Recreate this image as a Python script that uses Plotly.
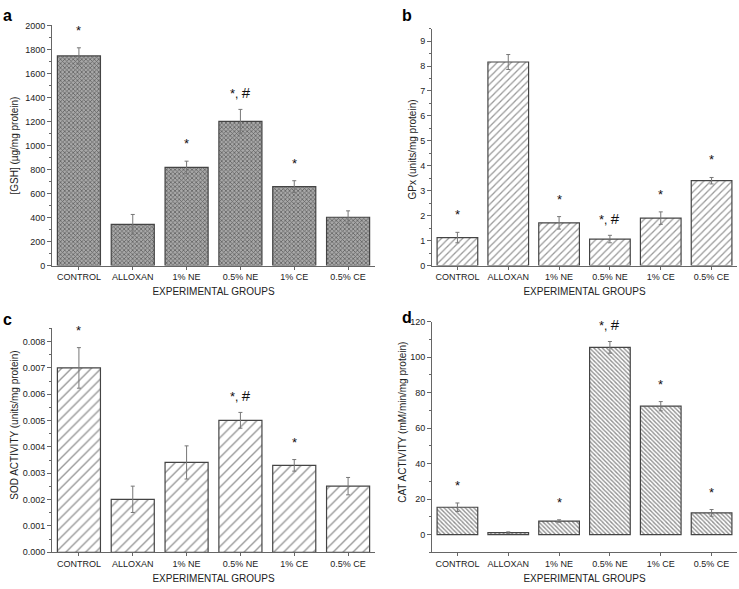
import plotly.graph_objects as go

groups = ["CONTROL", "ALLOXAN", "1% NE", "0.5% NE", "1% CE", "0.5% CE"]

gsh = [1745, 343, 817, 1200, 657, 402]
gsh_err = [68, 82, 52, 100, 49, 53]
gsh_marks = ["*", "", "*", "*,#", "*", ""]

gpx = [1.12, 8.16, 1.71, 1.06, 1.90, 3.40]
gpx_err = [0.21, 0.30, 0.25, 0.15, 0.25, 0.13]
gpx_marks = ["*", "", "*", "*,#", "*", "*"]

sod = [0.00700, 0.00201, 0.00341, 0.00501, 0.00330, 0.00251]
sod_err = [0.00077, 0.00050, 0.00063, 0.00030, 0.00022, 0.00033]
sod_marks = ["*", "", "", "*,#", "*", ""]

cat = [15.4, 1.1, 7.6, 105.6, 72.4, 12.2]
cat_err = [2.4, 0.4, 0.7, 3.3, 2.6, 1.9]
cat_marks = ["*", "", "*", "*,#", "*", "*"]

W, H = 739, 589
FONT = "Liberation Sans, Arial, sans-serif"

def px_x(a, b):
    return [a / W, b / W]

def px_y(top, bottom):
    return [1 - bottom / H, 1 - top / H]

panels = [
    dict(vals=gsh, err=gsh_err, marks=gsh_marks, xd=px_x(52, 375), yd=px_y(20.7, 265),
         rng=[0, 2000], dtick=200, minor=100, fmt="", title="[GSH] (µg/mg protein)",
         pattern=dict(shape="x", size=3, solidity=0.45, fgcolor="#1a1a1a", bgcolor="#a8a8a8"),
         letter="a", lx=1, ly=11, tx=15, ty=143),
    dict(vals=gpx, err=gpx_err, marks=gpx_marks, xd=px_x(432, 737), yd=px_y(24, 265),
         rng=[0, 9.5], dtick=1, minor=0.5, fmt="", title="GPx (units/mg protein)",
         pattern=dict(shape="/", size=5, solidity=0.25, fgcolor="#333333", bgcolor="white"),
         letter="b", lx=400, ly=11, tx=413, ty=147),
    dict(vals=sod, err=sod_err, marks=sod_marks, xd=px_x(52, 375), yd=px_y(329, 556.7),
         rng=[0, 0.0085], dtick=0.001, minor=0.0005, fmt=".3f", title="SOD ACTIVITY (units/mg protein)",
         pattern=dict(shape="/", size=7, solidity=0.2, fgcolor="#333333", bgcolor="white"),
         letter="c", lx=1, ly=320, tx=15, ty=428),
    dict(vals=cat, err=cat_err, marks=cat_marks, xd=px_x(432, 737), yd=px_y(322.3, 556.7),
         rng=[-10, 120], dtick=20, minor=10, fmt="", title="CAT ACTIVITY (mM/min/mg protein)",
         pattern=dict(shape="\\", size=3, solidity=0.45, fgcolor="#222222", bgcolor="white"),
         letter="d", lx=400, ly=318, tx=403, ty=425),
]

fig = go.Figure()
annotations = []
for i, p in enumerate(panels):
    n = "" if i == 0 else str(i + 1)
    fig.add_trace(go.Bar(
        x=groups, y=p["vals"], xaxis="x" + n, yaxis="y" + n, width=0.8,
        marker=dict(color="white", pattern=p["pattern"], line=dict(color="#444444", width=1.2)),
        error_y=dict(type="data", array=p["err"], color="#777777", thickness=1, width=2),
        showlegend=False, hoverinfo="x+y",
    ))
    fig.update_layout(**{
        "xaxis" + n: dict(domain=p["xd"], anchor="y" + n, range=[-0.5, 5.5], showline=True,
                          linecolor="#666666", linewidth=1, ticks="outside", ticklen=3,
                          tickcolor="#666666", tickfont=dict(family=FONT, size=9, color="#222"),
                          title=dict(text="EXPERIMENTAL GROUPS", standoff=6,
                                     font=dict(family=FONT, size=10, color="#222")),
                          showgrid=False, zeroline=False, fixedrange=True),
        "yaxis" + n: dict(domain=p["yd"], anchor="x" + n, range=p["rng"], dtick=p["dtick"],
                          tickformat=p["fmt"], showline=True, linecolor="#666666", linewidth=1,
                          ticks="outside", ticklen=4, tickcolor="#666666",
                          minor=dict(dtick=p["minor"], ticks="outside", ticklen=2, tickcolor="#666666"),
                          tickfont=dict(family=FONT, size=9, color="#222"),
                          showgrid=False, zeroline=False, fixedrange=True),
    })
    annotations.append(dict(text=p["title"], xref="paper", yref="paper", x=p["tx"] / W,
                            y=1 - p["ty"] / H, textangle=-90, showarrow=False,
                            xanchor="center", yanchor="middle",
                            font=dict(family=FONT, size=10, color="#222")))
    annotations.append(dict(text="<b>" + p["letter"] + "</b>", xref="paper", yref="paper",
                            x=p["lx"] / W, y=1 - p["ly"] / H, xanchor="left", yanchor="middle",
                            showarrow=False, font=dict(family=FONT, size=16, color="#000")))
    for g, v, e, m in zip(groups, p["vals"], p["err"], p["marks"]):
        if not m:
            continue
        if m == "*":
            txt, shift = "*", 8
        else:
            txt, shift = "*<span style='font-size:12px'>, </span><span style='font-size:15px'>#</span>", 6
        annotations.append(dict(text=txt, x=g, y=v + e, xref="x" + n, yref="y" + n,
                                xanchor="center", yanchor="bottom", yshift=shift, showarrow=False,
                                font=dict(family=FONT, size=13, color="#111")))

fig.update_layout(width=W, height=H, margin=dict(l=0, r=0, t=0, b=0), plot_bgcolor="white",
                  paper_bgcolor="white", annotations=annotations, bargap=0.2)
fig.write_html("out.html", config={"displayModeBar": False},
               post_script="document.body.style.margin='0';document.body.style.padding='0';")
